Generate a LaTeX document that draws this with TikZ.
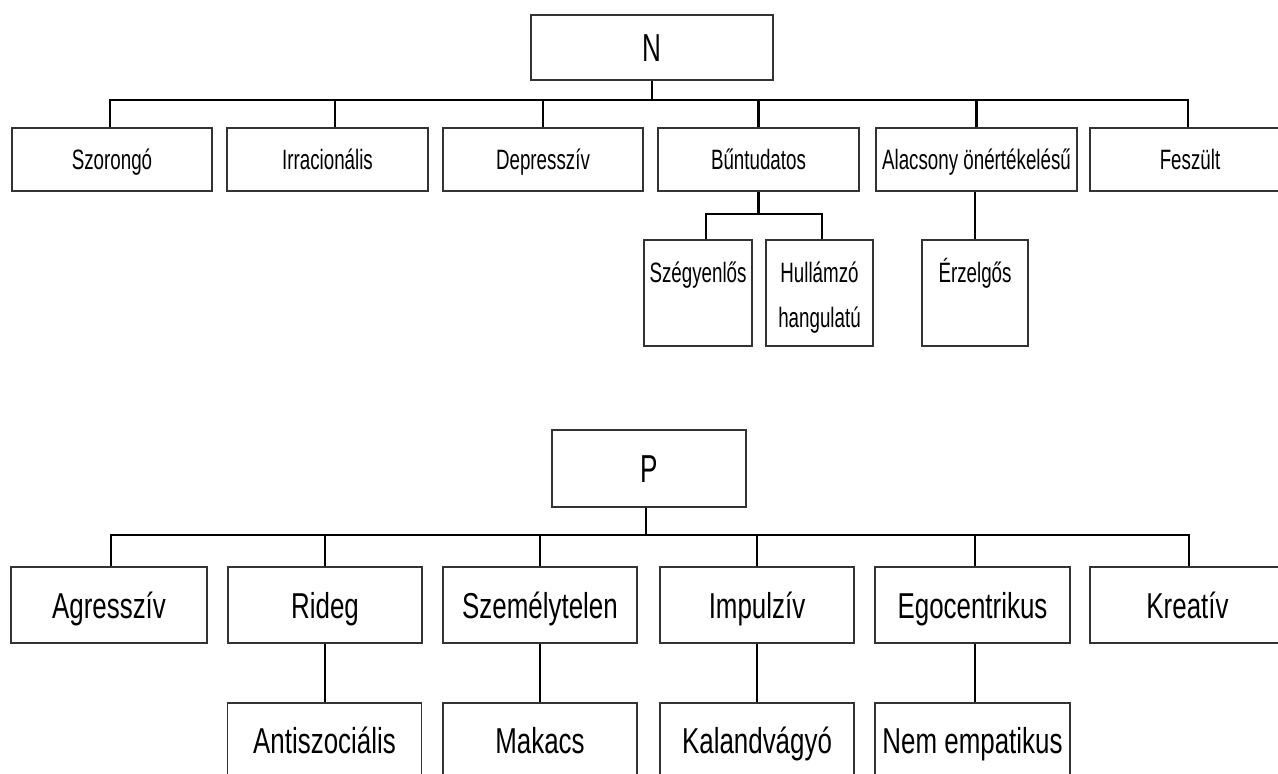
\documentclass[tikz,border=0pt]{standalone}
\usepackage{fontspec}
\setmainfont[FakeStretch=0.67]{Liberation Sans}
\newfontfamily\bigfont[FakeStretch=0.72]{Liberation Sans}
\tikzset{
  box/.style={draw=black!80, line width=1.3pt, inner sep=0pt, align=center},
  topf/.style={font=\fontsize{28}{34}\selectfont, text height=20pt, text depth=0pt, inner sep=0pt},
  headf/.style={font=\fontsize{39}{46}\selectfont, text height=28pt, text depth=0pt},
  botf/.style={font=\bigfont\fontsize{36}{42}\selectfont, text height=26pt, text depth=0pt},
  lvla/.style={box, topf, minimum height=63pt},
  subbox/.style={box, minimum height=106pt},
  lvlb/.style={box, botf, minimum height=76pt, minimum width=194pt},
  subb/.style={box, botf, minimum height=74pt, minimum width=194pt},
  conn/.style={draw=black, line width=2.4pt},
}
\begin{document}
\begin{tikzpicture}[x=1pt,y=-1pt]
\useasboundingbox (0,0) rectangle (1278,774);
\fill[white] (0,0) rectangle (1278,774);
\clip (0,0) rectangle (1278,774);

% ---------- N tree ----------
\node[box, headf, minimum width=242pt, minimum height=65pt] (N) at (652,47.5) {N};
\node[lvla, minimum width=200pt] (sz) at (112,159.5) {Szorongó};
\node[lvla, minimum width=201pt] (ir) at (327.5,159.5) {Irracionális};
\node[lvla, minimum width=200pt] (de) at (543,159.5) {Depresszív};
\node[lvla, minimum width=201pt] (bu) at (758.5,159.5) {Bűntudatos};
\node[lvla, minimum width=201pt] (al) at (976.5,159.5) {Alacsony önértékelésű};
\node[lvla, minimum width=200pt] (fe) at (1190,159.5) {Feszült};

\node[subbox, minimum width=108pt] (sze) at (698,293) {};
\node[subbox, minimum width=107pt] (hu) at (819.5,293) {};
\node[subbox, minimum width=106pt] (er) at (975,293) {};
\node[topf, anchor=base] (szet) at (698,282) {Szégyenlős};
\node[topf, anchor=base] (hut1) at (819.5,282) {Hullámzó};
\node[topf, anchor=base] (hut2) at (819.5,327) {hangulatú};
\node[topf, anchor=base] (ert) at (975,282) {Érzelgős};

\coordinate (nb) at (650,100);
\coordinate (bj) at (759,214);
\draw[conn] (N.south) -- (N.south |- nb);
\draw[conn] ([xshift=-2pt]sz.north) |- ([xshift=-2pt]fe.north |- nb) -- ([xshift=-2pt]fe.north);
\draw[conn] ([xshift=7.5pt]ir.north) -- ([xshift=7.5pt]ir.north |- nb);
\draw[conn] (de.north) -- (de.north |- nb);
\draw[conn] (bu.north) -- (bu.north |- nb);
\draw[conn] (al.north) -- (al.north |- nb);
\draw[conn] (bu.south) -- (bu.south |- bj);
\draw[conn] ([xshift=8pt]sze.north) |- ([xshift=2.5pt]hu.north |- bj) -- ([xshift=2.5pt]hu.north);
\draw[conn] (er.north) -- (er.north |- al.south);

% ---------- P tree ----------
\node[box, headf, minimum width=194pt, minimum height=77pt] (P) at (649,468.5) {P};
\node[lvlb, minimum width=196pt] (ag) at (109,605) {Agresszív};
\node[lvlb] (ri) at (325,605) {Rideg};
\node[lvlb] (sm) at (540,605) {Személytelen};
\node[lvlb] (im) at (757,605) {Impulzív};
\node[lvlb, minimum width=195pt] (eg) at (972.5,605) {Egocentrikus};
\node[lvlb, minimum width=195pt] (kr) at (1187.5,605) {Kreatív};

\node[subb] (an) at (324.5,740) {Antiszociális};
\node[subb] (ma) at (540,740) {Makacs};
\node[subb] (ka) at (757,740) {Kalandvágyó};
\node[subb, minimum width=195pt] (ne) at (972.5,740) {Nem empatikus};

\coordinate (pb) at (646,535);
\draw[conn] ([xshift=-3pt]P.south) -- ([xshift=-3pt]P.south |- pb);
\draw[conn] ([xshift=2pt]ag.north) |- ([xshift=1.5pt]kr.north |- pb) -- ([xshift=1.5pt]kr.north);
\draw[conn] (ri.north) -- (ri.north |- pb);
\draw[conn] (sm.north) -- (sm.north |- pb);
\draw[conn] (im.north) -- (im.north |- pb);
\draw[conn] ([xshift=2.5pt]eg.north) -- ([xshift=2.5pt]eg.north |- pb);
\draw[conn] (ri.south) -- (ri.south |- an.north);
\draw[conn] (sm.south) -- (sm.south |- ma.north);
\draw[conn] (im.south) -- (im.south |- ka.north);
\draw[conn] ([xshift=2.5pt]eg.south) -- ([xshift=2.5pt]eg.south |- ne.north);
\end{tikzpicture}
\end{document}
